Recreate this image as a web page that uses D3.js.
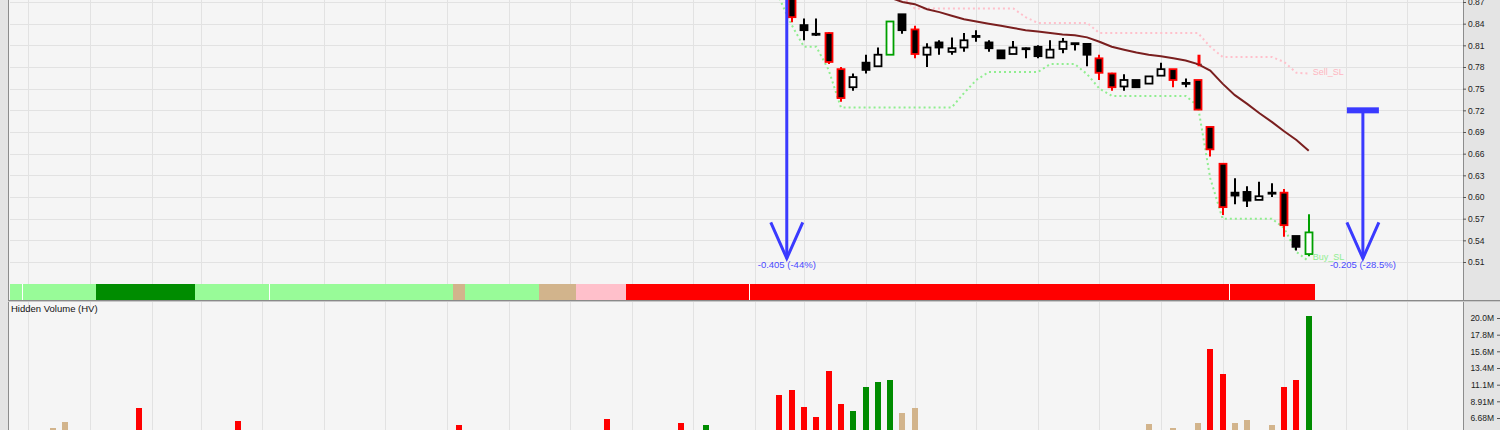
<!DOCTYPE html>
<html>
<head>
<meta charset="utf-8">
<script src="https://cdn.jsdelivr.net/npm/d3@7"></script>
<style>
  html, body { margin: 0; padding: 0; background: #f5f5f5; overflow: hidden; }
  svg { display: block; font-family: "Liberation Sans", Arial, sans-serif; }
</style>
</head>
<body>
<svg id="chart" width="1500" height="430"></svg>
<script>
// ---- data (bar index 0 = first bar at the left edge) ----
const candleStart = 63;
const opens  = [0.900, 0.838, 0.826, 0.827, 0.777, 0.752, 0.786, 0.781, 0.797, 0.853, 0.832,
                0.797, 0.814, 0.801, 0.807, 0.823, 0.814, 0.803, 0.798, 0.806, 0.808, 0.793,
                0.805, 0.813, 0.812, 0.792, 0.771, 0.753, 0.762, 0.757, 0.768, 0.777, 0.758,
                0.762, 0.697, 0.646, 0.606, 0.607, 0.596, 0.606, 0.606, 0.546, 0.521];
const highs  = [0.920, 0.847, 0.847, 0.828, 0.780, 0.771, 0.797, 0.807, 0.843, 0.853, 0.837,
                0.813, 0.817, 0.821, 0.827, 0.831, 0.817, 0.803, 0.816, 0.807, 0.810, 0.817,
                0.820, 0.813, 0.812, 0.797, 0.772, 0.770, 0.762, 0.767, 0.786, 0.777, 0.764,
                0.762, 0.697, 0.646, 0.626, 0.615, 0.621, 0.619, 0.611, 0.546, 0.576];
const lows   = [0.842, 0.817, 0.823, 0.784, 0.732, 0.747, 0.771, 0.781, 0.797, 0.826, 0.792,
                0.780, 0.797, 0.797, 0.801, 0.815, 0.801, 0.792, 0.798, 0.792, 0.792, 0.793,
                0.799, 0.803, 0.781, 0.762, 0.747, 0.747, 0.752, 0.757, 0.768, 0.752, 0.752,
                0.721, 0.656, 0.575, 0.590, 0.586, 0.596, 0.600, 0.545, 0.526, 0.518];
const closes = [0.849, 0.831, 0.826, 0.787, 0.737, 0.766, 0.776, 0.797, 0.843, 0.831, 0.798,
                0.807, 0.807, 0.806, 0.817, 0.823, 0.806, 0.792, 0.807, 0.806, 0.795, 0.804,
                0.815, 0.813, 0.797, 0.772, 0.752, 0.762, 0.752, 0.767, 0.777, 0.762, 0.758,
                0.721, 0.666, 0.586, 0.602, 0.595, 0.601, 0.606, 0.561, 0.531, 0.551];
// outline colour of each candle: k = normal, r = red, g = green
const edges = "rkkrrkkkgkrkkkkkkkkkkkkkkrrkkkkrkrrrkkkkrkg".split("");

const maStart = 70;
const maValues = [0.882, 0.876, 0.870, 0.867, 0.860, 0.856, 0.851, 0.846, 0.843, 0.840, 0.837,
                  0.834, 0.831, 0.829, 0.827, 0.825, 0.824, 0.821, 0.815, 0.808, 0.804, 0.800,
                  0.797, 0.795, 0.792, 0.789, 0.784, 0.775, 0.757, 0.741, 0.729, 0.716, 0.704,
                  0.691, 0.679, 0.664];

const sellStart = 72;
const sellSL = [0.877, 0.861, 0.861, 0.861, 0.861, 0.861, 0.861, 0.861, 0.861, 0.861, 0.849,
                0.841, 0.841, 0.841, 0.841, 0.841, 0.827, 0.827, 0.827, 0.827, 0.827, 0.827,
                0.827, 0.827, 0.827, 0.808, 0.794, 0.794, 0.794, 0.794, 0.794, 0.787, 0.772,
                0.771];

const buyStart = 62;
const buySL = [0.875, 0.838, 0.808, 0.808, 0.776, 0.724, 0.724, 0.724, 0.724, 0.724, 0.724,
               0.724, 0.724, 0.724, 0.724, 0.744, 0.762, 0.773, 0.773, 0.773, 0.773, 0.773,
               0.784, 0.784, 0.784, 0.770, 0.750, 0.740, 0.740, 0.740, 0.740, 0.740, 0.740,
               0.740, 0.726, 0.626, 0.570, 0.570, 0.570, 0.570, 0.570, 0.557, 0.524, 0.511];

// state band under the price pane, one letter per bar
const bandState = ("LLLLLLL" + "DDDDDDDD" + "LLLLLLLLLLLLLLLLLLLLL" + "T" + "LLLLLL" + "TTT" + "PPPP" +
                   "RRRRRRRR" + "RRRRRRRR" + "RRRRRRRR" + "RRRRRRRR" + "RRRRRRRR" + "RRRRRRRR" + "RRRRRRRR").split("");
const bandBreaks = [0, 20, 59, 98];

// hidden volume bars that reach into the visible pane (millions)
const volIdx  = [3, 4, 10, 18, 36, 48, 54, 56, 62, 63, 64, 65, 66, 67, 68, 69, 70, 71, 72, 73,
                 92, 94, 96, 97, 98, 99, 100, 102, 103, 104, 105];
const volM    = [5.3, 6.1, 8.0, 6.3, 5.7, 6.5, 6.0, 5.7, 9.7, 10.4, 8.1, 6.8, 13.0, 8.6, 7.6, 10.8, 11.5, 11.8, 7.3, 8.0,
                 5.9, 5.4, 6.0, 15.9, 12.6, 6.0, 6.4, 5.7, 10.8, 11.8, 20.3];
const volKind = "TTRRRRRGRRRRRRGGGGTTTTTRRTTTRRG".split("");

// signal marker, price change arrows
const signalBar = 96, signalTop = 0.797, signalBottom = 0.781;
const arrowBar  = [62.6, 109.4];
const arrowFrom = [0.92, 0.72];
const arrowTo   = [0.515, 0.515];
const arrowText = ["-0.405 (-44%)", "-0.205 (-28.5%)"];
const arrowCap  = [false, true];

// grid and axes
const gridBars   = [1, 6, 11, 15, 20, 25, 30, 35, 40, 45, 50, 55, 60, 64, 69, 73, 78, 83, 88, 93, 98, 103, 108, 113];
const priceTicks = [0.51, 0.54, 0.57, 0.60, 0.63, 0.66, 0.69, 0.72, 0.75, 0.78, 0.81, 0.84, 0.87];
const volTicks   = [6.68, 8.91, 11.13, 13.36, 15.59, 17.81, 20.04];
const volLabels  = ["6.68M", "8.91M", "11.1M", "13.4M", "15.6M", "17.8M", "20.0M"];

// ---- layout ----
const W = 1500, H = 430;
const plotL = 10, plotR = 1463;
const priceTop = 0, bandTop = 284, bandBot = 300, volTop = 302;

const colors = {
  L: "#98fb98", D: "#008c00", T: "#d2b48c", P: "#ffc0cb", R: "#ff0000", G: "#008c00"
};
const edgeCol = { k: "#000000", r: "#ff0000", g: "#00a000" };

const svg = d3.select("#chart");

const x  = d3.scaleLinear().domain([-0.5, 117.5]).range([plotL, 1462.6]);
const yP = d3.scaleLinear().domain([0.51, 0.87]).range([262, 2]);
const yV = d3.scaleLinear().domain([0, 20.04]).range([468, 318]);

svg.append("rect").attr("width", W).attr("height", H).attr("fill", "#f5f5f5");

const defs = svg.append("defs");
defs.append("clipPath").attr("id", "clipP")
  .append("rect").attr("x", plotL).attr("y", 0).attr("width", plotR - plotL).attr("height", bandTop);
defs.append("clipPath").attr("id", "clipV")
  .append("rect").attr("x", plotL).attr("y", volTop).attr("width", plotR - plotL).attr("height", H - volTop);

// grid
const grid = svg.append("g").attr("stroke", "#e2e2e2").attr("stroke-width", 1).attr("shape-rendering", "crispEdges");
grid.selectAll(".hg").data(priceTicks).enter().append("line")
  .attr("x1", plotL).attr("x2", plotR)
  .attr("y1", d => Math.round(yP(d)) + 0.5).attr("y2", d => Math.round(yP(d)) + 0.5);
grid.selectAll(".vg").data(gridBars).enter().append("line")
  .attr("x1", d => Math.round(x(d)) + 0.5).attr("x2", d => Math.round(x(d)) + 0.5)
  .attr("y1", 0).attr("y2", H);

// band
const band = svg.append("g").attr("shape-rendering", "crispEdges");
band.selectAll("rect").data(bandState).enter().append("rect")
  .attr("x", (d, i) => Math.round(x(i - 0.5)))
  .attr("width", (d, i) => Math.round(x(i + 0.5)) - Math.round(x(i - 0.5)))
  .attr("y", bandTop).attr("height", bandBot - bandTop)
  .attr("fill", d => colors[d]);
band.selectAll("line").data(bandBreaks).enter().append("line")
  .attr("x1", d => Math.round(x(d + 0.5)) + 0.5).attr("x2", d => Math.round(x(d + 0.5)) + 0.5)
  .attr("y1", bandTop).attr("y2", bandBot)
  .attr("stroke", "#ffffff").attr("stroke-width", 1);

// volume pane
const vol = svg.append("g").attr("clip-path", "url(#clipV)").attr("shape-rendering", "crispEdges");
vol.selectAll("rect").data(volIdx).enter().append("rect")
  .attr("x", d => Math.round(x(d)) - 3)
  .attr("width", 6)
  .attr("y", (d, i) => yV(volM[i]))
  .attr("height", (d, i) => yV(0) - yV(volM[i]))
  .attr("fill", (d, i) => colors[volKind[i]]);

svg.append("text").attr("x", 11).attr("y", 312)
  .attr("font-size", "9.5px").attr("fill", "#111")
  .text("Hidden Volume (HV)");

// price pane lines
const price = svg.append("g").attr("clip-path", "url(#clipP)");
const lineGen = start => d3.line().x((d, i) => x(start + i)).y(d => yP(d));

price.append("path").datum(sellSL).attr("d", lineGen(sellStart))
  .attr("fill", "none").attr("stroke", "#ffc0cb").attr("stroke-width", 2).attr("stroke-dasharray", "2,3");
price.append("path").datum(buySL).attr("d", lineGen(buyStart))
  .attr("fill", "none").attr("stroke", "#90ee90").attr("stroke-width", 2).attr("stroke-dasharray", "2,3");
price.append("path").datum(maValues).attr("d", lineGen(maStart))
  .attr("fill", "none").attr("stroke", "#7a1f1f").attr("stroke-width", 2);

// candles
const candles = opens.map((o, k) => ({
  i: candleStart + k, o: o, h: highs[k], l: lows[k], c: closes[k], e: edges[k]
}));
const cg = price.selectAll(".candle").data(candles).enter().append("g");
cg.append("line")
  .attr("x1", d => Math.round(x(d.i))).attr("x2", d => Math.round(x(d.i)))
  .attr("y1", d => yP(d.h)).attr("y2", d => yP(d.l))
  .attr("stroke", d => edgeCol[d.e]).attr("stroke-width", 2);
cg.append("rect")
  .attr("x", d => Math.round(x(d.i)) - 3.5)
  .attr("width", 7)
  .attr("y", d => Math.min(yP(d.o), yP(d.c)))
  .attr("height", d => Math.max(1, Math.abs(yP(d.o) - yP(d.c))))
  .attr("fill", d => d.c > d.o ? "#ffffff" : "#000000")
  .attr("stroke", d => edgeCol[d.e]).attr("stroke-width", 1.8);

// signal marker
price.append("line")
  .attr("x1", Math.round(x(signalBar)) + 1).attr("x2", Math.round(x(signalBar)) + 1)
  .attr("y1", yP(signalTop)).attr("y2", yP(signalBottom))
  .attr("stroke", "#ff0000").attr("stroke-width", 3);
price.append("line")
  .attr("x1", Math.round(x(signalBar)) - 2).attr("x2", Math.round(x(signalBar)) + 4)
  .attr("y1", yP(signalBottom) - 2).attr("y2", yP(signalBottom) - 2)
  .attr("stroke", "#7a1f1f").attr("stroke-width", 1);

// SL labels
svg.append("text").attr("x", x(sellStart + sellSL.length - 1) + 4).attr("y", yP(sellSL[sellSL.length - 1]) + 1)
  .attr("font-size", "9px").attr("fill", "#ffb6c1").text("Sell_SL");
svg.append("text").attr("x", x(buyStart + buySL.length - 1) + 4).attr("y", yP(buySL[buySL.length - 1]) - 1)
  .attr("font-size", "9px").attr("fill", "#90ee90").text("Buy_SL");

// arrows
const blue = "#3a3aff";
arrowBar.forEach((b, k) => {
  const ax = x(b), y0 = yP(arrowFrom[k]), y1 = yP(arrowTo[k]);
  const g = svg.append("g").attr("clip-path", "url(#clipP)");
  g.append("line").attr("x1", ax).attr("x2", ax).attr("y1", y0).attr("y2", y1)
    .attr("stroke", blue).attr("stroke-width", 3);
  g.append("path")
    .attr("d", `M${ax - 16},${y1 - 36}L${ax},${y1}L${ax + 16},${y1 - 36}`)
    .attr("fill", "none").attr("stroke", blue).attr("stroke-width", 3);
  if (arrowCap[k]) {
    g.append("rect").attr("x", ax - 16).attr("width", 32)
      .attr("y", y0 - 3).attr("height", 6).attr("fill", blue);
  }
  svg.append("text").attr("x", ax).attr("y", y1 + 10)
    .attr("text-anchor", "middle").attr("font-size", "9.5px").attr("fill", "#4a4aff")
    .text(arrowText[k]);
});

// right axis panel
svg.append("rect").attr("x", plotR).attr("y", 0).attr("width", W - plotR).attr("height", H).attr("fill", "#e4e4e4");
svg.append("line").attr("x1", plotR + 0.5).attr("x2", plotR + 0.5).attr("y1", 0).attr("y2", H)
  .attr("stroke", "#8c8c8c").attr("shape-rendering", "crispEdges");

const pAxis = svg.append("g").attr("transform", `translate(${plotR},0)`)
  .call(d3.axisRight(yP).tickValues(priceTicks).tickFormat(d3.format(".2f")).tickSize(3).tickSizeOuter(0).tickPadding(2));
const vAxis = svg.append("g").attr("transform", "translate(1497,0)")
  .call(d3.axisLeft(yV).tickValues(volTicks).tickFormat((d, i) => volLabels[i]).tickSize(-3).tickSizeOuter(0).tickPadding(-1));
vAxis.selectAll("text").attr("x", -3);
[pAxis, vAxis].forEach(a => {
  a.select(".domain").remove();
  a.selectAll("line").attr("stroke", "#555");
  a.selectAll("text").attr("font-family", "Liberation Sans, Arial, sans-serif")
    .attr("font-size", "8.5px").attr("fill", "#222");
});

// frame: left edge and pane separator
svg.append("rect").attr("x", 0).attr("y", 0).attr("width", 8).attr("height", H).attr("fill", "#e4e4e4");
svg.append("line").attr("x1", 8.5).attr("x2", 8.5).attr("y1", 0).attr("y2", H)
  .attr("stroke", "#8c8c8c").attr("shape-rendering", "crispEdges");
svg.append("line").attr("x1", 8).attr("x2", W).attr("y1", 300.5).attr("y2", 300.5)
  .attr("stroke", "#8a8a8a").attr("shape-rendering", "crispEdges");
svg.append("line").attr("x1", 8).attr("x2", W).attr("y1", 301.5).attr("y2", 301.5)
  .attr("stroke", "#c8c8c8").attr("shape-rendering", "crispEdges");
</script>
</body>
</html>
